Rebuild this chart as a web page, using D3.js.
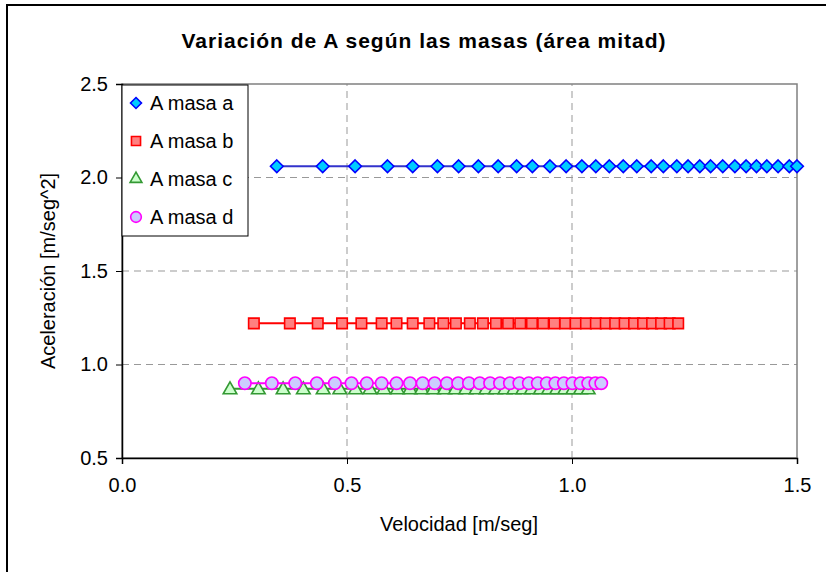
<!DOCTYPE html>
<html>
<head>
<meta charset="utf-8">
<script src="https://cdn.jsdelivr.net/npm/d3@7"></script>
<style>
  body { margin: 0; background: #fff; }
  svg { display: block; font-family: Arial, "Liberation Sans", sans-serif; }
</style>
</head>
<body>
<div id="chart"></div>
<script>
// velocidades [m/seg]
const velA = [0.344, 0.446, 0.518, 0.590, 0.646, 0.701, 0.748, 0.792, 0.836, 0.877, 0.912, 0.951,
  0.987, 1.022, 1.053, 1.083, 1.114, 1.144, 1.176, 1.203, 1.233, 1.258, 1.284, 1.308, 1.335, 1.362,
  1.387, 1.410, 1.433, 1.458, 1.483, 1.500]
const velB = [0.293, 0.373, 0.435, 0.489, 0.532, 0.577, 0.610, 0.646, 0.683, 0.714, 0.742, 0.773,
  0.802, 0.831, 0.858, 0.885, 0.911, 0.936, 0.961, 0.985, 1.008, 1.031, 1.053, 1.075, 1.096, 1.117,
  1.138, 1.158, 1.178, 1.198, 1.217, 1.236]
const velC = [0.240, 0.303, 0.358, 0.403, 0.447, 0.484, 0.519, 0.551, 0.582, 0.612, 0.640, 0.666,
  0.692, 0.717, 0.741, 0.764, 0.787, 0.809, 0.830, 0.851, 0.871, 0.891, 0.910, 0.930, 0.948, 0.966,
  0.984, 1.002, 1.019, 1.036]
const velD = [0.273, 0.333, 0.385, 0.433, 0.473, 0.510, 0.544, 0.577, 0.610, 0.640, 0.668, 0.695,
  0.722, 0.747, 0.771, 0.795, 0.818, 0.840, 0.862, 0.883, 0.904, 0.924, 0.944, 0.963, 0.982, 1.001,
  1.019, 1.036, 1.052, 1.065]
// aceleracion constante de cada serie [m/seg^2]
const accA = 2.06
const accB = 1.22
const accC = 0.87
const accD = 0.90

const seriesNames = ['A masa a', 'A masa b', 'A masa c', 'A masa d']
const xTicks = [0.0, 0.5, 1.0, 1.5]
const yTicks = [0.5, 1.0, 1.5, 2.0, 2.5]

const series = [
  { name: seriesNames[0], vel: velA, acc: accA, shape: 'diamond', stroke: '#0000ff', fill: '#00ccff', line: '#3333cc' },
  { name: seriesNames[1], vel: velB, acc: accB, shape: 'square', stroke: '#ff0000', fill: '#ff8080', line: '#ff0000' },
  { name: seriesNames[2], vel: velC, acc: accC, shape: 'triangle', stroke: '#339933', fill: '#ccffcc', line: '#339933' },
  { name: seriesNames[3], vel: velD, acc: accD, shape: 'circle', stroke: '#ff00ff', fill: '#ccccff', line: '#ff00ff' }
]

const width = 826, height = 572
const svg = d3.select('#chart').append('svg')
  .attr('width', width)
  .attr('height', height)

// marco exterior
svg.append('rect')
  .attr('x', 7).attr('y', 5)
  .attr('width', 840).attr('height', 620)
  .attr('fill', 'none')
  .attr('stroke', '#000')
  .attr('stroke-width', 2)

const x = d3.scaleLinear().domain([0, 1.5]).range([122, 797])
const y = d3.scaleLinear().domain([0.5, 2.5]).range([458, 84])

// titulo
svg.append('text')
  .attr('x', 424).attr('y', 48)
  .attr('text-anchor', 'middle')
  .attr('font-size', 21)
  .attr('font-weight', 'bold')
  .attr('letter-spacing', 1)
  .text('Variación de A según las masas (área mitad)')

// grilla
svg.append('g')
  .selectAll('line')
  .data(yTicks.filter(d => d > 0.5 && d < 2.5))
  .enter().append('line')
  .attr('x1', x(0)).attr('x2', x(1.5))
  .attr('y1', d => y(d)).attr('y2', d => y(d))
  .attr('stroke', '#999')
  .attr('stroke-dasharray', '7,5')

svg.append('g')
  .selectAll('line')
  .data(xTicks.filter(d => d > 0 && d < 1.5))
  .enter().append('line')
  .attr('x1', d => x(d)).attr('x2', d => x(d))
  .attr('y1', y(0.5)).attr('y2', y(2.5))
  .attr('stroke', '#999')
  .attr('stroke-dasharray', '7,5')

// borde del area de trazado
svg.append('rect')
  .attr('x', x(0)).attr('y', y(2.5))
  .attr('width', x(1.5) - x(0)).attr('height', y(0.5) - y(2.5))
  .attr('fill', 'none')
  .attr('stroke', '#808080')
  .attr('stroke-width', 1.5)

// ejes
const xAxis = svg.append('g')
  .attr('transform', `translate(0, ${y(0.5)})`)
  .call(d3.axisBottom(x).tickValues(xTicks).tickFormat(d3.format('.1f')).tickSize(6).tickPadding(14))
const yAxis = svg.append('g')
  .attr('transform', `translate(${x(0)}, 0)`)
  .call(d3.axisLeft(y).tickValues(yTicks).tickFormat(d3.format('.1f')).tickSize(6).tickPadding(8))

for (const ax of [xAxis, yAxis]) {
  ax.select('.domain').attr('stroke', '#000').attr('stroke-width', 1.5)
  ax.selectAll('.tick line').attr('stroke', '#000')
  ax.selectAll('.tick text')
    .attr('font-size', 20)
    .attr('fill', '#000')
    .style('font-family', 'Arial, "Liberation Sans", sans-serif')
}

svg.append('text')
  .attr('x', 459).attr('y', 531)
  .attr('text-anchor', 'middle')
  .attr('font-size', 20)
  .text('Velocidad [m/seg]')

svg.append('text')
  .attr('transform', `translate(55, ${(y(0.5) + y(2.5)) / 2}) rotate(-90)`)
  .attr('text-anchor', 'middle')
  .attr('font-size', 20)
  .text('Aceleración [m/seg^2]')

// rombo cuadrado (el de d3 es alargado)
const squareDiamond = {
  draw(ctx, size) {
    const r = Math.sqrt(size / 2)
    ctx.moveTo(0, -r)
    ctx.lineTo(r, 0)
    ctx.lineTo(0, r)
    ctx.lineTo(-r, 0)
    ctx.closePath()
  }
}
const symbolType = {
  diamond: squareDiamond,
  square: d3.symbolSquare,
  triangle: d3.symbolTriangle,
  circle: d3.symbolCircle
}
const symbolSize = { diamond: 80, square: 110, triangle: 80, circle: 120 }

function marker(sel, s, scale = 1) {
  sel.attr('d', d3.symbol().type(symbolType[s.shape]).size(symbolSize[s.shape] * scale))
    .attr('fill', s.fill)
    .attr('stroke', s.stroke)
    .attr('stroke-width', 1.6)
}

for (const s of series) {
  const pts = s.vel.map(v => [v, s.acc])
  svg.append('path')
    .datum(pts)
    .attr('fill', 'none')
    .attr('stroke', s.line)
    .attr('stroke-width', 2)
    .attr('d', d3.line().x(d => x(d[0])).y(d => y(d[1])))

  svg.append('g')
    .selectAll('path')
    .data(pts)
    .enter().append('path')
    .attr('transform', d => `translate(${x(d[0])}, ${y(d[1]) + (s.shape === 'triangle' ? 1 : 0)})`)
    .call(marker, s)
}

// leyenda
const legend = svg.append('g')
legend.append('rect')
  .attr('x', 122).attr('y', 85)
  .attr('width', 126).attr('height', 151)
  .attr('fill', '#fff')
  .attr('stroke', '#000')
  .attr('stroke-width', 1)

const legY = d3.scalePoint().domain(seriesNames).range([103, 217])
series.forEach(s => {
  legend.append('path')
    .attr('transform', `translate(136, ${legY(s.name)})`)
    .call(marker, s, 0.75)
  legend.append('text')
    .attr('x', 150).attr('y', legY(s.name) + 7)
    .attr('font-size', 20)
    .text(s.name)
})
</script>
</body>
</html>
